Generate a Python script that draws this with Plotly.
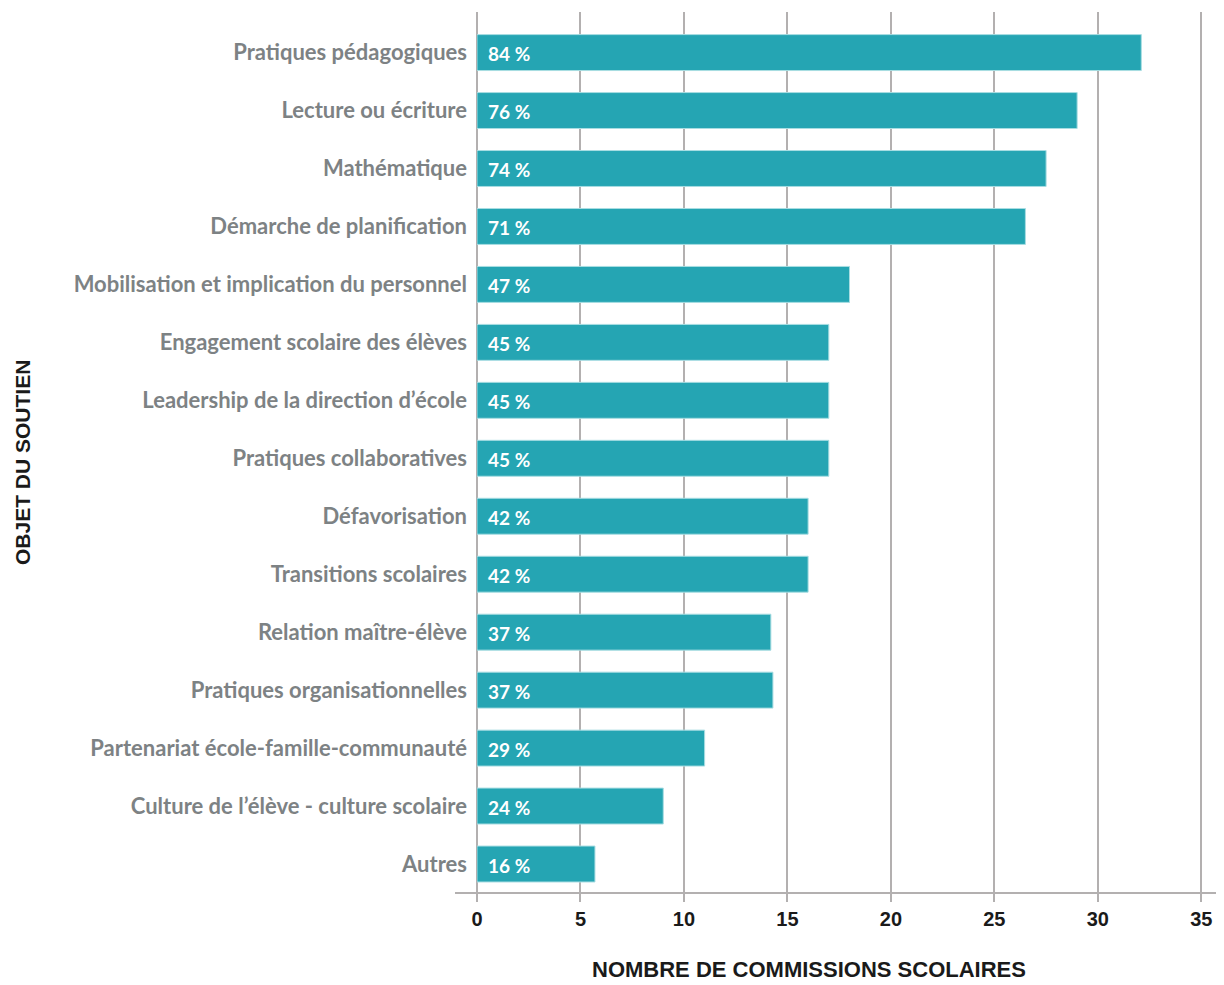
import plotly.graph_objects as go

categories = [
    "Pratiques pédagogiques",
    "Lecture ou écriture",
    "Mathématique",
    "Démarche de planification",
    "Mobilisation et implication du personnel",
    "Engagement scolaire des élèves",
    "Leadership de la direction d’école",
    "Pratiques collaboratives",
    "Défavorisation",
    "Transitions scolaires",
    "Relation maître-élève",
    "Pratiques organisationnelles",
    "Partenariat école-famille-communauté",
    "Culture de l’élève - culture scolaire",
    "Autres",
]
counts = [32.1, 29, 27.5, 26.5, 18, 17, 17, 17, 16, 16, 14.2, 14.3, 11, 9, 5.7]
percents = ["84 %", "76 %", "74 %", "71 %", "47 %", "45 %", "45 %", "45 %",
            "42 %", "42 %", "37 %", "37 %", "29 %", "24 %", "16 %"]
x_ticks = [0, 5, 10, 15, 20, 25, 30, 35]

BAR = "#25a5b3"
GRID = "#b3b0b0"
LABEL = "#7d8284"
HUM = "Lato, Liberation Sans Narrow, sans-serif"
ARIAL = "Liberation Sans, Arial, sans-serif"

# page body has an 8px margin: figure placed at (8, 8)
W, H = 1216, 977
L, T, R = 469, 4, 2
PW, PH = W - L - R, 881
B = H - T - PH

fig = go.Figure()
fig.add_trace(go.Bar(
    x=counts, y=categories, orientation="h",
    marker=dict(color=BAR, line=dict(color="#a8dde2", width=1)),
    width=0.62, hoverinfo="skip",
))

for c, p in zip(categories, percents):
    fig.add_annotation(x=0, y=c, text="<b>" + p + "</b>", showarrow=False,
                       xanchor="left", xshift=9, yshift=-1,
                       font=dict(family=HUM, size=19, color="white"))

fig.update_layout(
    width=W, height=H,
    margin=dict(l=L, r=R, t=T, b=B),
    paper_bgcolor="white", plot_bgcolor="white",
    showlegend=False,
    xaxis=dict(range=[0, 36], tickvals=x_ticks,
               ticktext=["<b>%d</b>" % v for v in x_ticks], showgrid=True,
               gridcolor=GRID, gridwidth=2, zeroline=True, zerolinecolor=GRID,
               zerolinewidth=2, showline=False,
               ticks="outside", ticklen=8, tickcolor=GRID, tickwidth=2,
               tickfont=dict(family=ARIAL, size=20, color="#1a1a1a"),
               fixedrange=True),
    yaxis=dict(categoryorder="array", categoryarray=categories,
               range=[14.5, -0.7], showgrid=False, zeroline=False,
               ticks="", ticklabelstandoff=9,
               tickvals=categories,
               ticktext=["<b>" + c + "</b>" for c in categories],
               tickfont=dict(family=HUM, size=22, color=LABEL),
               fixedrange=True),
)

# bottom axis line extending slightly past the left of the plot
fig.add_shape(type="line", xref="paper", yref="paper", x0=-22 / PW, x1=1,
              y0=0, y1=0, line=dict(color=GRID, width=2))

fig.add_annotation(xref="paper", yref="paper", x=(809 - 477) / PW,
                   y=-(970 - 893) / PH,
                   yanchor="middle", xanchor="center", showarrow=False,
                   text="<b>NOMBRE DE COMMISSIONS SCOLAIRES</b>",
                   font=dict(family=ARIAL, size=22, color="#1a1a1a"))
fig.add_annotation(xref="paper", yref="paper", x=-(477 - 22) / PW,
                   y=(893 - 463) / PH, xanchor="center", yanchor="middle",
                   showarrow=False, textangle=-90,
                   text="<b>OBJET DU SOUTIEN</b>",
                   font=dict(family=ARIAL, size=21, color="#1a1a1a"))

fig.write_html("out.html")
